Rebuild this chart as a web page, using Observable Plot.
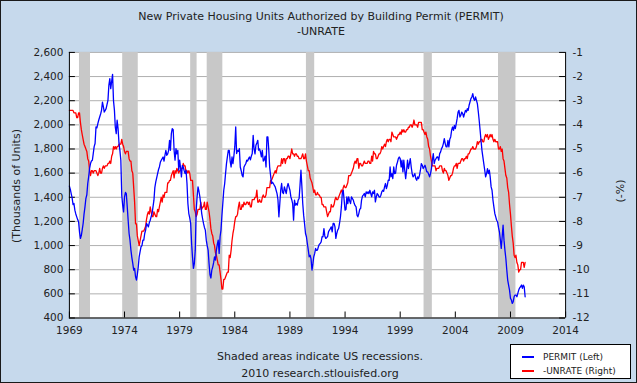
<!DOCTYPE html>
<html>
<head>
<meta charset="utf-8">
<script src="https://cdn.jsdelivr.net/npm/d3@7"></script>
<script src="https://cdn.jsdelivr.net/npm/@observablehq/plot@0.6"></script>
<style>
  body { margin: 0; background: #fff; }
  #wrap { position: relative; width: 637px; height: 383px; background: #c6d9ec; border: 1px solid #1a1a1a; box-sizing: border-box; overflow: hidden; font-family: "DejaVu Sans", Verdana, sans-serif; color: #222; }
  #chart { position: absolute; left: -1px; top: -1px; }
  .t { position: absolute; white-space: nowrap; font-size: 11px; line-height: 1; }
  .c { transform: translate(-50%, -50%); }
  .rot { transform: translate(-50%, -50%) rotate(-90deg); }
  #legend { position: absolute; left: 509px; top: 343px; width: 121px; height: 35px; background: #fff; border: 1px solid #000; box-sizing: border-box; font-size: 9px; }
  .li { position: absolute; left: 11px; white-space: nowrap; line-height: 1; }
  .sw { display: inline-block; width: 12px; height: 2px; vertical-align: middle; margin-right: 9px; position: relative; top: -1px; }
</style>
</head>
<body>
<div id="wrap">
  <div id="chart"></div>
  <div class="t c" style="left:320px; top:15px;">New Private Housing Units Authorized by Building Permit (PERMIT)</div>
  <div class="t c" style="left:320px; top:30px;">-UNRATE</div>
  <div class="t rot" style="left:15px; top:185px;">(Thousands of Units)</div>
  <div class="t rot" style="left:619px; top:190px;">(-%)</div>
  <div class="t c" style="left:319px; top:355px;">Shaded areas indicate US recessions.</div>
  <div class="t c" style="left:319px; top:372px;">2010 research.stlouisfed.org</div>
  <div id="legend">
    <div class="li" style="top:8px;"><span class="sw" style="background:#0000ff"></span>PERMIT (Left)</div>
    <div class="li" style="top:22px;"><span class="sw" style="background:#ff0000"></span>-UNRATE (Right)</div>
  </div>
</div>
<script>
// New private housing units authorized by building permits, thousands (SAAR), monthly from Jan 1969
const permit = [
  1492,1465,1431,1395,1340,1348,1293,1262,1238,1215,1197,1114, // 1969
  1059,1085,1130,1183,1260,1321,1390,1420,1514,1569,1640,1679, // 1970
  1700,1707,1760,1820,1845,1982,1975,2010,2040,2065,2090,2120, // 1971
  2189,2148,2106,2120,2134,2170,2203,2330,2383,2300,2360,2418, // 1972
  2200,2120,1982,1927,2038,1969,1850,1789,1707,1417,1334,1279, // 1973
  1403,1440,1431,1321,1210,1100,1045,962,900,852,797,811,       // 1974
  742,714,760,824,907,950,990,1000,1045,1045,1100,1128,         // 1975
  1183,1170,1155,1190,1210,1240,1265,1320,1376,1480,1527,1560, // 1976
  1596,1630,1651,1690,1707,1720,1734,1700,1748,1789,1748,1760, // 1977
  1789,1872,1789,1927,1969,1960,1789,1707,1803,1760,1789,1624, // 1978
  1707,1640,1569,1665,1651,1620,1596,1624,1514,1348,1265,1230, // 1979
  1183,1017,907,811,850,962,1293,1403,1486,1450,1403,1340,     // 1980
  1265,1220,1183,1150,1128,1045,1000,962,852,760,731,797,       // 1981
  824,860,907,879,962,1010,1045,935,1073,1128,1250,1350,        // 1982
  1458,1514,1596,1679,1734,1789,1789,1700,1651,1734,1679,1740, // 1983
  1817,1982,1762,1789,1780,1803,1651,1620,1582,1569,1651,1665, // 1984
  1680,1707,1700,1720,1734,1710,1740,1762,1913,1800,1760,1831, // 1985
  1850,1872,1790,1800,1775,1734,1789,1700,1710,1740,1651,1900, // 1986
  1900,1789,1651,1582,1514,1525,1514,1500,1486,1458,1430,1380, // 1987
  1238,1350,1458,1514,1440,1431,1486,1458,1431,1486,1514,1486, // 1988
  1458,1403,1380,1348,1210,1376,1335,1348,1335,1376,1390,1500, // 1989
  1624,1486,1348,1250,1180,1100,1073,1017,962,907,920,890,      // 1990
  797,850,907,935,976,960,962,990,1010,1017,1030,1073,          // 1991
  1073,1141,1080,1059,1065,1075,1114,1128,1140,1155,1114,1183, // 1992
  1183,1155,1059,1100,1128,1141,1183,1238,1320,1431,1458,1376, // 1993
  1293,1300,1403,1348,1403,1370,1348,1403,1390,1376,1348,1330, // 1994
  1320,1252,1238,1265,1300,1307,1376,1410,1420,1431,1403,1445, // 1995
  1431,1445,1430,1458,1431,1403,1445,1431,1458,1362,1403,1431, // 1996
  1420,1403,1400,1417,1445,1458,1450,1486,1514,1472,1500,1541, // 1997
  1540,1651,1569,1596,1555,1651,1596,1600,1665,1690,1720,1734, // 1998
  1720,1651,1707,1610,1707,1624,1555,1624,1707,1638,1679,1720, // 1999
  1651,1596,1569,1582,1596,1555,1541,1569,1555,1582,1624,1679, // 2000
  1665,1638,1651,1665,1640,1610,1610,1590,1569,1596,1638,1707, // 2001
  1762,1679,1707,1720,1734,1734,1707,1762,1776,1803,1817,1845, // 2002
  1886,1845,1817,1817,1872,1817,1880,1900,1955,1982,1955,1996, // 2003
  1969,2010,2051,2106,2120,2065,2079,2106,2093,2065,2093,2120, // 2004
  2106,2134,2120,2162,2189,2217,2231,2258,2217,2203,2231,2203, // 2005
  2175,2106,2038,1955,1872,1789,1734,1679,1624,1569,1596,1638, // 2006
  1596,1624,1569,1486,1458,1376,1321,1266,1238,1210,1197,1150, // 2007
  1114,1045,976,1073,1169,1045,962,893,797,714,670,631,         // 2008
  562,549,521,535,576,590,590,576,604,631,650,659,              // 2009
  673,645,673,659,576                                           // 2010
];
// Civilian unemployment rate, percent, monthly from Jan 1969 (plotted as -UNRATE)
const unrate = [
  3.4,3.4,3.4,3.4,3.4,3.5,3.5,3.5,3.7,3.7,3.5,3.5,
  3.9,4.2,4.4,4.6,4.8,4.9,5.0,5.1,5.4,5.5,5.9,6.1,
  5.9,5.9,6.0,5.9,5.9,5.9,6.0,6.1,6.0,5.8,6.0,6.0,
  5.8,5.7,5.8,5.7,5.7,5.7,5.6,5.6,5.5,5.6,5.3,5.2,
  4.9,5.0,4.9,5.0,4.9,4.9,4.8,4.8,4.8,4.6,4.8,4.9,
  5.1,5.2,5.1,5.1,5.1,5.4,5.5,5.5,5.9,6.0,6.6,7.2,
  8.1,8.1,8.6,8.8,9.0,8.8,8.6,8.4,8.4,8.4,8.3,8.2,
  7.9,7.7,7.6,7.7,7.4,7.6,7.8,7.8,7.6,7.7,7.8,7.8,
  7.5,7.6,7.4,7.2,7.0,7.2,6.9,7.0,6.8,6.8,6.8,6.4,
  6.4,6.3,6.3,6.1,6.0,5.9,6.2,5.9,6.0,5.8,5.9,6.0,
  5.9,5.9,5.8,5.8,5.6,5.7,5.7,6.0,5.9,6.0,5.9,6.0,
  6.3,6.3,6.3,6.9,7.5,7.6,7.8,7.7,7.5,7.5,7.5,7.2,
  7.5,7.4,7.4,7.2,7.5,7.5,7.2,7.4,7.6,7.9,8.3,8.5,
  8.6,8.9,9.0,9.3,9.4,9.6,9.8,9.8,10.1,10.4,10.8,10.8,
  10.4,10.4,10.3,10.2,10.1,10.1,9.4,9.5,9.2,8.8,8.5,8.3,
  8.0,7.8,7.8,7.7,7.4,7.2,7.5,7.5,7.3,7.4,7.2,7.3,
  7.3,7.2,7.2,7.3,7.2,7.4,7.4,7.1,7.1,7.1,7.0,7.0,
  6.7,7.2,7.2,7.1,7.2,7.2,7.0,6.9,7.0,7.0,6.9,6.6,
  6.6,6.6,6.6,6.3,6.3,6.2,6.1,6.0,5.9,6.0,5.8,5.7,
  5.7,5.7,5.7,5.4,5.6,5.4,5.4,5.6,5.4,5.4,5.3,5.3,
  5.4,5.2,5.0,5.2,5.2,5.3,5.2,5.2,5.3,5.3,5.4,5.4,
  5.4,5.3,5.2,5.4,5.4,5.2,5.5,5.7,5.9,5.9,6.2,6.3,
  6.4,6.6,6.8,6.7,6.9,6.9,6.8,6.9,6.9,7.0,7.0,7.3,
  7.3,7.4,7.4,7.4,7.6,7.8,7.7,7.6,7.6,7.3,7.4,7.4,
  7.3,7.1,7.0,7.1,7.1,7.0,6.9,6.8,6.7,6.8,6.6,6.5,
  6.6,6.6,6.5,6.4,6.1,6.1,6.1,6.0,5.9,5.8,5.6,5.5,
  5.6,5.4,5.4,5.8,5.6,5.6,5.7,5.7,5.6,5.5,5.6,5.6,
  5.6,5.5,5.5,5.6,5.6,5.3,5.5,5.1,5.2,5.2,5.4,5.4,
  5.3,5.2,5.2,5.1,4.9,5.0,4.9,4.8,4.9,4.7,4.6,4.7,
  4.6,4.6,4.7,4.3,4.4,4.5,4.5,4.5,4.6,4.5,4.4,4.4,
  4.3,4.4,4.2,4.3,4.2,4.3,4.3,4.2,4.2,4.1,4.1,4.0,
  4.0,4.1,4.0,3.8,4.0,4.0,4.0,4.1,3.9,3.9,3.9,3.9,
  4.2,4.2,4.3,4.4,4.3,4.5,4.6,4.9,5.0,5.3,5.5,5.7,
  5.7,5.7,5.7,5.9,5.8,5.8,5.8,5.7,5.7,5.7,5.9,6.0,
  5.8,5.9,5.9,6.0,6.1,6.3,6.2,6.1,6.1,6.0,5.8,5.7,
  5.7,5.6,5.8,5.6,5.6,5.6,5.5,5.4,5.4,5.5,5.4,5.4,
  5.3,5.4,5.2,5.2,5.1,5.0,5.0,4.9,5.0,5.0,5.0,4.9,
  4.7,4.8,4.7,4.7,4.6,4.6,4.7,4.7,4.5,4.4,4.5,4.4,
  4.6,4.5,4.4,4.5,4.4,4.6,4.7,4.6,4.7,4.7,4.7,5.0,
  5.0,4.9,5.1,5.0,5.4,5.5,5.8,6.1,6.2,6.6,6.8,7.3,
  7.7,8.2,8.6,8.9,9.4,9.5,9.4,9.7,9.8,10.1,10.0,10.0,
  9.7,9.7,9.7,9.9,9.7
];
const recessionStarts = ["1969-12", "1973-11", "1980-01", "1981-07", "1990-07", "2001-03", "2007-12"];
const recessionEnds   = ["1970-11", "1975-03", "1980-07", "1982-11", "1991-03", "2001-11", "2009-06"];
const leftTicks = [400, 600, 800, 1000, 1200, 1400, 1600, 1800, 2000, 2200, 2400, 2600];
const rightTicks = [-12, -11, -10, -9, -8, -7, -6, -5, -4, -3, -2, -1];
const xTickYears = [1969, 1974, 1979, 1984, 1989, 1994, 1999, 2004, 2009, 2014];

const month = i => new Date(Date.UTC(1969, i, 1));
const parseM = d3.utcParse("%Y-%m");
const permitData = permit.map((v, i) => ({date: month(i), value: v}));
const unrateData = unrate.map((v, i) => ({date: month(i), value: -v}));
const recessions = recessionStarts.map((s, i) => ({start: parseM(s), end: d3.utcMonth.offset(parseM(recessionEnds[i]), 1)}));
// map right-axis (-%) values onto left-axis scale: -12 -> 400, -1 -> 2600
const toLeft = r => 400 + (12 + r) * 200;
const fromLeft = l => (l - 400) / 200 - 12;
const xTicks = xTickYears.map(y => new Date(Date.UTC(y, 0, 1)));
const xDomain = [xTicks[0], xTicks[xTicks.length - 1]];

const plotW = 637 - 69 - 71, plotH = 383 - 52 - 65;

const chart = Plot.plot({
  width: 637,
  height: 383,
  marginLeft: 69,
  marginRight: 71,
  marginTop: 52,
  marginBottom: 65,
  style: {background: "transparent", fontFamily: "'DejaVu Sans', Verdana, sans-serif", fontSize: "10.5px", color: "#222"},
  x: {type: "utc", domain: xDomain},
  y: {domain: [400, 2600]},
  marks: [
    Plot.frame({fill: "white", stroke: null}),
    Plot.gridY(leftTicks, {stroke: "#b0b0b0", strokeOpacity: 1}),
    Plot.rect(recessions, {x1: "start", x2: "end", fill: "#c8c8c8"}),
    Plot.tickY(leftTicks, {y: d => d, stroke: "#000", insetRight: plotW - 6}),
    Plot.tickY(leftTicks, {y: d => d, stroke: "#000", insetLeft: plotW - 6}),
    Plot.tickX(xTicks, {x: d => d, stroke: "#000", insetTop: plotH - 6}),
    Plot.line(unrateData, {x: "date", y: d => toLeft(d.value), stroke: "#ff0000", strokeWidth: 1.3}),
    Plot.line(permitData, {x: "date", y: "value", stroke: "#0000ff", strokeWidth: 1.3}),
    Plot.ruleY([400], {stroke: "#000"}),
    Plot.ruleX([xDomain[0]], {stroke: "#000"}),
    Plot.ruleX([xDomain[1]], {stroke: "#000"}),
    Plot.axisY(leftTicks, {anchor: "left", tickSize: 0, tickPadding: 6, tickFormat: d3.format(","), label: null}),
    Plot.axisY(rightTicks.map(toLeft), {anchor: "right", tickSize: 0, tickPadding: 7, tickFormat: d => String(fromLeft(d)), label: null}),
    Plot.axisX(xTicks, {anchor: "bottom", tickSize: 0, tickPadding: 9, tickFormat: d3.utcFormat("%Y"), label: null})
  ]
});
document.getElementById("chart").appendChild(chart);
</script>
</body>
</html>
